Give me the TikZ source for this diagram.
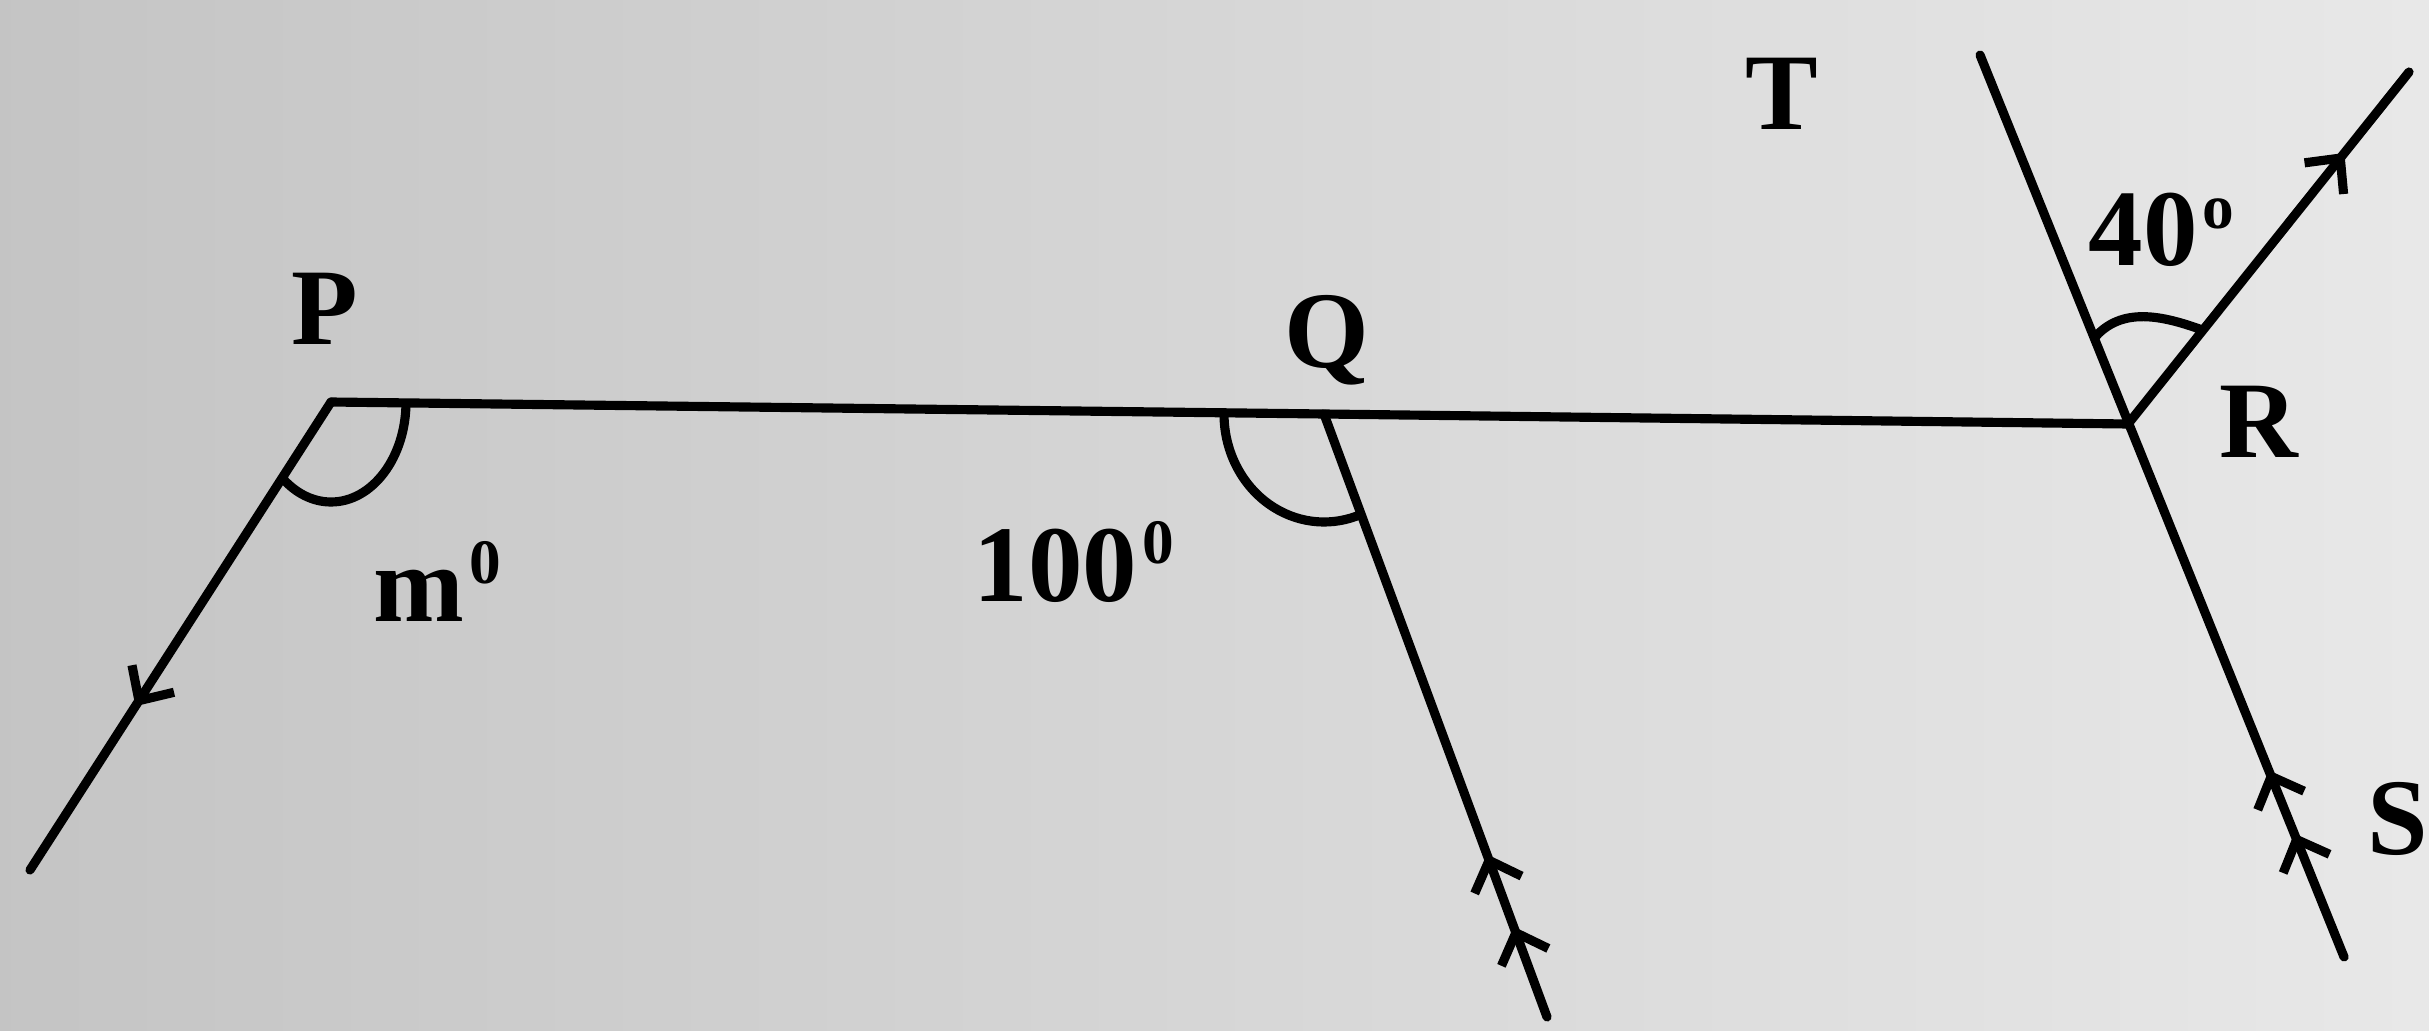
\documentclass[tikz,border=0pt]{standalone}
\usepackage{fontspec}
\setmainfont{Liberation Serif}
\usetikzlibrary{arrows.meta, calc, decorations.markings}
\newcommand{\degsup}[1]{\kern1.5pt\raisebox{0.34em}{\fontsize{18}{18}\selectfont #1}}

\begin{document}
\begin{tikzpicture}[
    >={Straight Barb[length=2.6mm, width=5mm]},
    seg/.style={line width=2.6pt, line cap=round},
    onearrow/.style={postaction={decorate}, decoration={markings,
        mark=at position #1 with {\arrow{>}}}},
    twoarrow/.style 2 args={postaction={decorate}, decoration={markings,
        mark=at position #1 with {\arrow{>}},
        mark=at position #2 with {\arrow{>}}}},
    anglemark/.style={line width=2.6pt},
    lbl/.style={font=\fontsize{31}{36}\selectfont\bfseries, inner sep=0pt}
]
    % paper
    \shade[left color=black!23, right color=black!9] (0,0) rectangle (24.29,10.30);
    \useasboundingbox (0,0) rectangle (24.29,10.30);
    \clip (0,0) rectangle (24.29,10.30);

    % points
    \coordinate (P) at (3.31,6.28);
    \coordinate (A) at (0.30,1.60);
    \coordinate (Q) at (13.24,6.16);
    \coordinate (B) at (15.47,0.13);
    \coordinate (R) at (21.28,6.06);
    \coordinate (T) at (19.80,9.75);
    \coordinate (S) at (23.44,0.73);
    \coordinate (U) at (24.09,9.58);

    % lines
    \draw[seg] (P) -- (Q) -- (R);
    \draw[seg, onearrow=0.65] (P) -- (A);
    \draw[seg, twoarrow={0.15}{0.27}] (B) -- (Q);
    \draw[seg, twoarrow={0.137}{0.207}] (S) -- (T);
    \draw[seg, onearrow=0.77] (R) -- (U);

    % angle marks
    \draw[anglemark] ($(P)+(0.75,0)$) arc[start angle=0, end angle=-131, x radius=0.75, y radius=1.0];
    \draw[anglemark] ($(Q)+(-1.0,0)$) arc[start angle=180, end angle=292, x radius=1.0, y radius=1.08];
    \draw[anglemark] ($(R)+(111.9:0.92)$) to[out=50, in=160] ($(R)+(51.4:1.2)$);

    % labels
    \node[lbl, anchor=base] (lp) at (3.25,6.85) {P};
    \node[lbl, anchor=base] (lq) at (13.27,6.63) {Q};
    \node[lbl, anchor=base] (lr) at (22.59,5.73) {R};
    \node[lbl, anchor=base] (ls) at (23.98,1.76) {S};
    \node[lbl, anchor=base] (lt) at (17.82,9.00) {T};
    \node[lbl, anchor=base west] (lm) at (3.73,4.09) {m\degsup{0}};
    \node[lbl, anchor=base west] (lhundred) at (9.73,4.29) {100\degsup{0}};
    \node[lbl, anchor=base west] (lforty) at (20.88,7.64) {40\degsup{o}};
\end{tikzpicture}
\end{document}
